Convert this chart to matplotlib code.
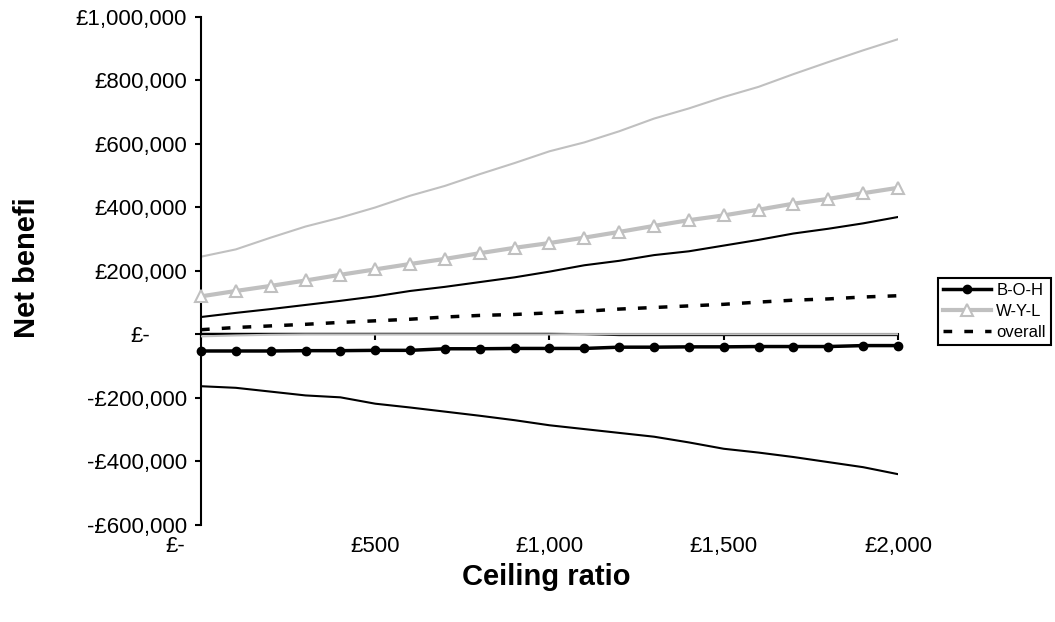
import matplotlib.pyplot as plt
import matplotlib.transforms as mtransforms
import numpy as np

plt.rcParams['font.family'] = ['Liberation Sans', 'DejaVu Sans']

# ceiling ratio, step of 100
ceiling = np.arange(0, 2001, 100)

# net benefit values in thousands of pounds
boh = [-52, -52, -52, -51, -51, -50, -50, -45, -45, -44, -44,
       -44, -40, -40, -39, -39, -38, -38, -38, -35, -35]
wyl = [120, 137, 153, 170, 188, 205, 222, 238, 256, 273, 288,
       305, 323, 342, 360, 375, 393, 412, 427, 445, 462]
overall = [15, 22, 27, 32, 38, 43, 48, 55, 60, 63, 68,
           73, 80, 85, 90, 95, 102, 108, 112, 118, 122]
wyl_upper = [245, 268, 305, 340, 368, 400, 437, 468, 505, 540, 577,
             605, 640, 680, 712, 748, 780, 820, 858, 895, 930]
boh_upper = [55, 68, 80, 93, 106, 120, 137, 150, 165, 180, 198,
             218, 232, 250, 262, 280, 298, 318, 333, 350, 370]
boh_lower = [-163, -168, -180, -192, -198, -218, -230, -243, -256, -270, -286,
             -298, -310, -322, -340, -360, -372, -386, -402, -418, -440]
near_zero_grey = [-6, -3, -1, 0, 0, 0, 0, 0, 0, 0, 0,
                  1, 1, 1, 1, 1, 1, 1, 1, 1, 1]
near_zero_black = [2, 2, 2, 2, 2, 2, 2, 2, 2, 2, 2,
                   1, -2, -2, -2, -2, -2, -2, -2, -2, -2]

yticks = [-600000, -400000, -200000, 0, 200000, 400000, 600000, 800000, 1000000]
ylabels = ['-£600,000', '-£400,000', '-£200,000', '£-', '£200,000',
           '£400,000', '£600,000', '£800,000', '£1,000,000']
xticks = [0, 500, 1000, 1500, 2000]
xlabels = ['£-', '£500', '£1,000', '£1,500', '£2,000']

grey = '#c0c0c0'

fig = plt.figure(figsize=(10.55, 6.22), dpi=100)
ax = fig.add_axes([0.1905, 0.156, 0.8512 - 0.1905, 0.9727 - 0.156])

k = 1000
ax.plot(ceiling, np.array(wyl_upper) * k, color=grey, lw=1.5, zorder=2)
ax.plot(ceiling, np.array(boh_upper) * k, color='black', lw=1.5, zorder=2)
ax.plot(ceiling, np.array(boh_lower) * k, color='black', lw=1.5, zorder=2)
ax.plot(ceiling, np.array(near_zero_black) * k, color='black', lw=1.5, zorder=2)
ax.plot(ceiling, np.array(near_zero_grey) * k, color=grey, lw=1.5, zorder=3)
l1, = ax.plot(ceiling, np.array(boh) * k, color='black', lw=2.5,
              marker='o', ms=6, zorder=4, clip_on=False, label='B-O-H')
l2, = ax.plot(ceiling, np.array(wyl) * k, color=grey, lw=3, marker='^', ms=9,
              mfc='white', mec=grey, mew=1.5, zorder=4, clip_on=False, label='W-Y-L')
l3, = ax.plot(ceiling, np.array(overall) * k, color='black', lw=2.5,
              dashes=(2.5, 3.5), zorder=4, label='overall')

ax.set_xlim(0, 2000)
ax.set_ylim(-600000, 1000000)

ax.spines['top'].set_visible(False)
ax.spines['right'].set_visible(False)
ax.spines['bottom'].set_position(('data', 0))
ax.spines['left'].set_linewidth(1.5)
ax.spines['bottom'].set_linewidth(1.5)

ax.set_yticks(yticks)
ax.set_yticklabels(ylabels)
ax.set_xticks(xticks)
ax.set_xticklabels([])
ax.tick_params(axis='y', direction='out', length=4, width=1.5, pad=6, labelsize=16)
ax.tick_params(axis='x', direction='out', length=4, width=1.5)

# accounting format pads the zero label
zero_lab = ax.get_yticklabels()[3]
zero_lab.set_transform(zero_lab.get_transform() +
                       mtransforms.ScaledTranslation(-0.37, 0, fig.dpi_scale_trans))

for xv, lab in zip(xticks, xlabels):
    dx = -0.26 if xv == 0 else 0
    tr = ax.get_xaxis_transform() + mtransforms.ScaledTranslation(dx, 0, fig.dpi_scale_trans)
    ax.text(xv, -0.022, lab, transform=tr, ha='center', va='top', fontsize=16)

fig.text(0.518, 0.072, 'Ceiling ratio', ha='center', va='center',
         fontsize=21, fontweight='bold')
fig.text(0.026, 0.57, 'Net benefi', ha='center', va='center', rotation=90,
         fontsize=21, fontweight='bold')

leg = fig.legend(handles=[l1, l2, l3], loc='upper left',
                 bbox_to_anchor=(0.889, 0.553), fontsize=12, frameon=True,
                 fancybox=False, framealpha=1, edgecolor='black',
                 handlelength=2.9, borderpad=0.3, labelspacing=0.35,
                 handletextpad=0.3, borderaxespad=0)
leg.get_frame().set_linewidth(1.5)

fig.savefig('out.png', dpi=100)
